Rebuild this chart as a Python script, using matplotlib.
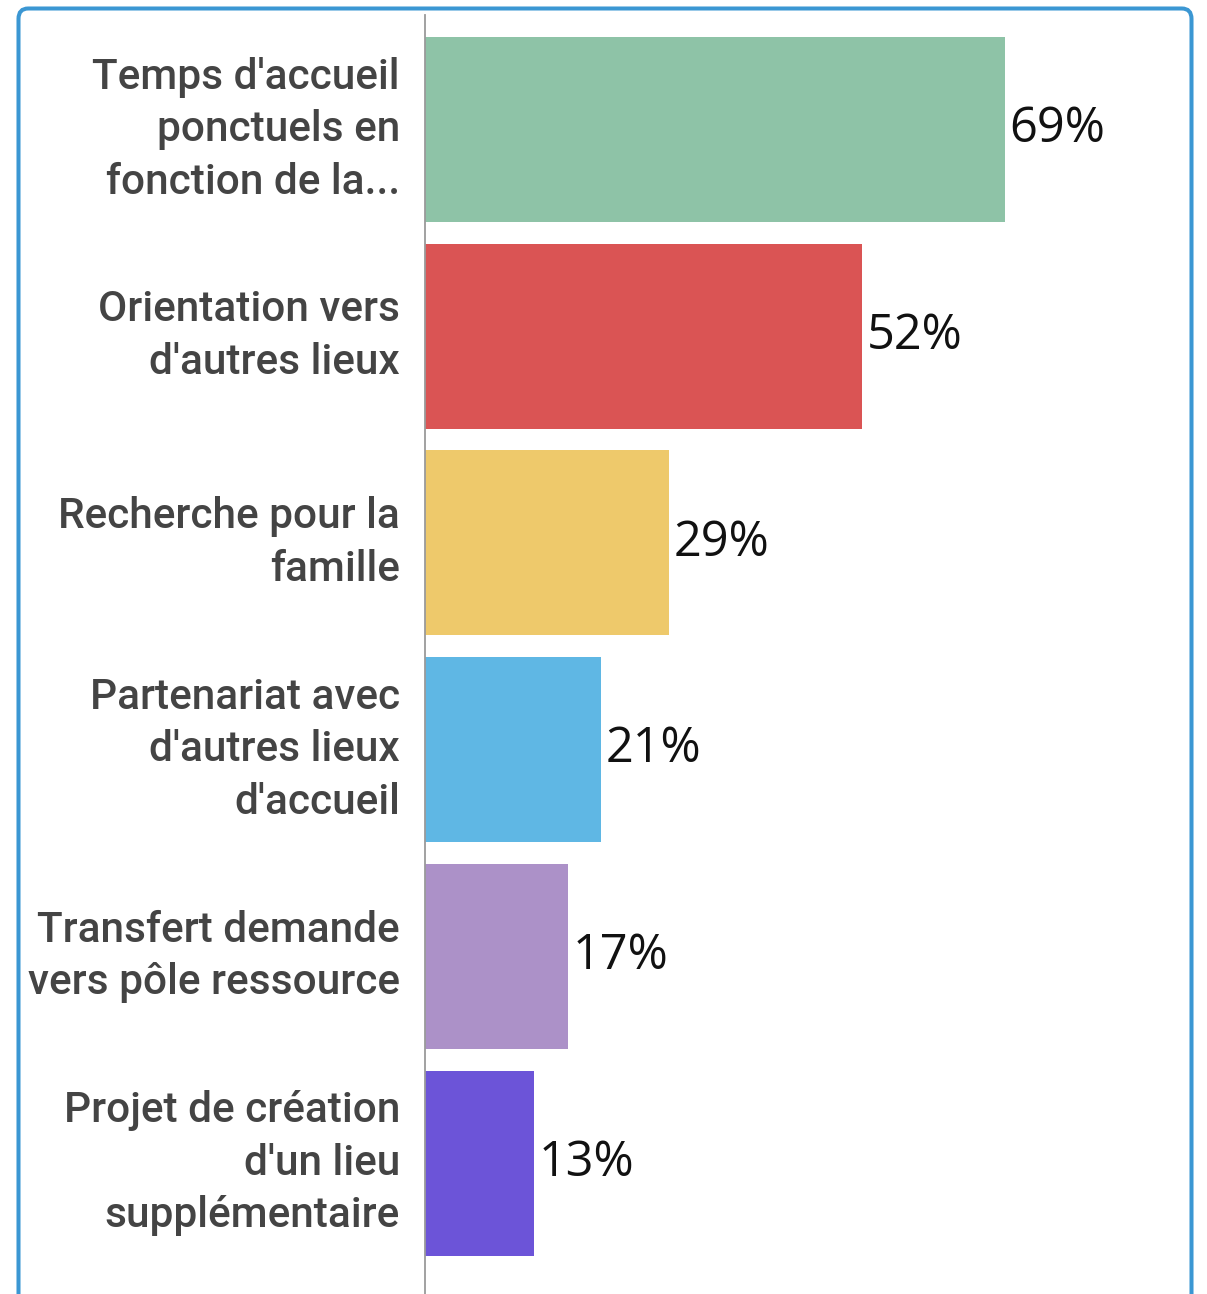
import matplotlib
matplotlib.use("Agg")
import matplotlib.pyplot as plt
from matplotlib.patches import FancyBboxPatch

categories = [
    "Temps d'accueil\nponctuels en\nfonction de la...",
    "Orientation vers\nd'autres lieux",
    "Recherche pour la\nfamille",
    "Partenariat avec\nd'autres lieux\nd'accueil",
    "Transfert demande\nvers pôle ressource",
    "Projet de création\nd'un lieu\nsupplémentaire",
]
values = [69, 52, 29, 21, 17, 13]
colors = ["#8ec3a7", "#da5454", "#eec96b", "#5fb7e4", "#ac91c8", "#6c54d8"]

W, H, DPI = 1207, 1294, 100
fig = plt.figure(figsize=(W / DPI, H / DPI), dpi=DPI)

# rounded blue frame, bottom edge runs off the image
frame = FancyBboxPatch((18.5 / W, -0.05), (1191.5 - 18.5) / W, (1294 - 8.5) / H + 0.05,
                       boxstyle="round,pad=0,rounding_size=0.008",
                       transform=fig.transFigure, fill=False,
                       edgecolor="#3b97d3", linewidth=2.9, clip_on=False)
fig.patches.append(frame)

ax_left, ax_w = 425 / W, 765 / W
ax = fig.add_axes([ax_left, 0, ax_w, (1294 - 15) / H])

y = list(range(len(values)))
ax.barh(y, values, height=0.895, color=colors)
for yi, v in zip(y, values):
    ax.text(v + 0.55, yi, f"{v}%", va="center", ha="left",
            fontsize=35, family="Open Sans", fontweight="medium", color="#111111")

ax.set_xlim(0, 765 / 8.4)
ax.set_ylim(5.633, -0.554)
ax.set_yticks(y)
ax.set_yticklabels(categories, fontsize=30.5, family="Roboto", fontweight="medium",
                   color="#444444", ha="right", va="center", linespacing=1.36)
ax.tick_params(axis="y", length=0, pad=18)
ax.set_xticks([])
for side in ("top", "right", "bottom"):
    ax.spines[side].set_visible(False)
ax.spines["left"].set_color("#9a9a9a")
ax.spines["left"].set_linewidth(1.3)

fig.savefig("out.png", dpi=DPI)
